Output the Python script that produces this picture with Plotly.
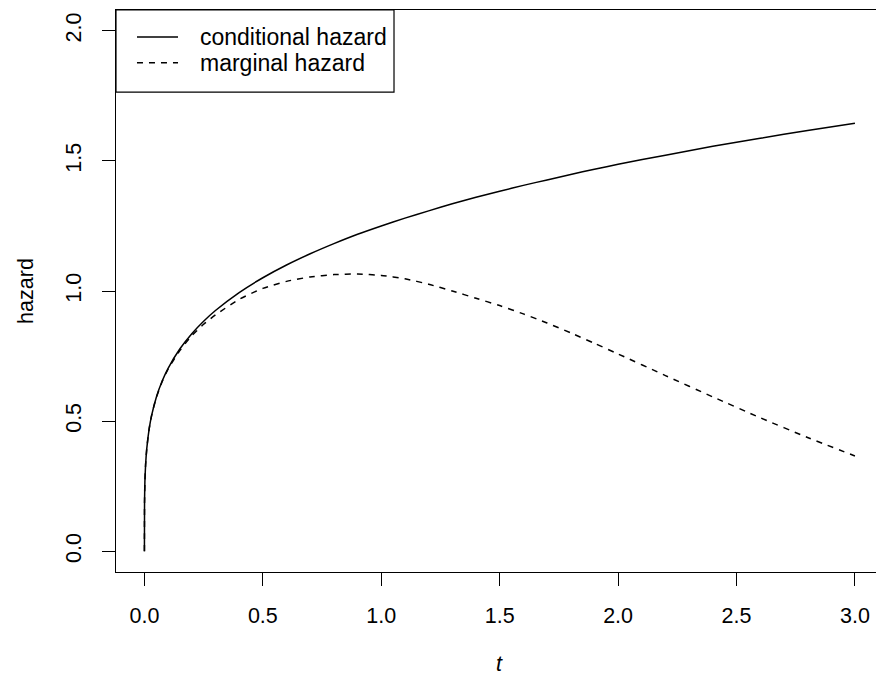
import plotly.graph_objects as go

# time points
t = [0.0, 0.0005, 0.002, 0.005, 0.01, 0.02, 0.03, 0.05, 0.075, 0.1, 0.15, 0.2,
     0.25, 0.3, 0.4, 0.5, 0.6, 0.7, 0.8, 0.9, 1.0, 1.1, 1.2, 1.3, 1.4, 1.5,
     1.6, 1.7, 1.8, 1.9, 2.0, 2.2, 2.4, 2.6, 2.8, 3.0]

conditional = [0.0, 0.188, 0.266, 0.332, 0.395, 0.470, 0.520, 0.591, 0.654, 0.703,
               0.778, 0.836, 0.884, 0.925, 0.994, 1.051, 1.100, 1.143, 1.182, 1.218,
               1.250, 1.280, 1.308, 1.335, 1.360, 1.383, 1.406, 1.427, 1.448, 1.468,
               1.487, 1.522, 1.556, 1.587, 1.617, 1.645]

marginal = [0.0, 0.188, 0.266, 0.332, 0.395, 0.470, 0.520, 0.590, 0.652, 0.700,
            0.772, 0.828, 0.872, 0.908, 0.968, 1.010, 1.037, 1.054, 1.063, 1.065,
            1.060, 1.047, 1.026, 1.000, 0.972, 0.944, 0.912, 0.877, 0.839, 0.799,
            0.758, 0.675, 0.593, 0.513, 0.437, 0.366]

legend_labels = ["conditional hazard", "marginal hazard"]
x_ticks = [0.0, 0.5, 1.0, 1.5, 2.0, 2.5, 3.0]
y_ticks = [0.0, 0.5, 1.0, 1.5, 2.0]

FONT = "Liberation Sans, Arial, Helvetica, sans-serif"
FS = 21.5
LFS = 23

fig = go.Figure()
fig.add_trace(go.Scatter(x=t, y=conditional, mode="lines",
                         line=dict(color="black", width=1.5, shape="spline", smoothing=0.6),
                         name=legend_labels[0], showlegend=False))
fig.add_trace(go.Scatter(x=t, y=marginal, mode="lines",
                         line=dict(color="black", width=1.5, dash="6px,6px", shape="spline", smoothing=0.6),
                         name=legend_labels[1], showlegend=False))

# manual legend (R style box)
fig.add_shape(type="rect", xref="paper", yref="paper", x0=0, x1=0.3658, y0=0.854, y1=1.0,
              line=dict(color="black", width=1.2), fillcolor="white", layer="above")
leg_y = [0.952, 0.906]
dashes = ["solid", "6px,6px"]
for lab, ly, d in zip(legend_labels, leg_y, dashes):
    fig.add_shape(type="line", xref="paper", yref="paper", x0=0.0276, x1=0.0816, y0=ly, y1=ly,
                  line=dict(color="black", width=1.5, dash=d), layer="above")
    fig.add_annotation(xref="paper", yref="paper", x=0.1079, y=ly, text=lab, showarrow=False,
                       xanchor="left", yanchor="middle", font=dict(family=FONT, size=LFS, color="black"))

# x axis title (italic t) centred under the full plot region
fig.add_annotation(xref="x", yref="paper", x=1.5, y=-0.163, text="<i>t</i>", showarrow=False,
                   xanchor="center", yanchor="middle", font=dict(family=FONT, size=FS, color="black"))

fig.update_layout(
    width=876, height=678,
    margin=dict(l=116, r=0, t=10, b=106),
    paper_bgcolor="white", plot_bgcolor="white",
    font=dict(family=FONT, size=FS, color="black"),
    showlegend=False,
    xaxis=dict(range=[-0.12, 3.089], tickvals=x_ticks, ticktext=[f"{v:.1f}" for v in x_ticks],
               showgrid=False, zeroline=False, showline=True, linecolor="black", linewidth=1.2,
               mirror=True, ticks="outside", ticklen=13, tickwidth=1.2, tickcolor="black",
               ticklabelstandoff=11, tickfont=dict(family=FONT, size=FS, color="black")),
    yaxis=dict(range=[-0.08, 2.08], tickvals=y_ticks, ticktext=[f"{v:.1f}" for v in y_ticks],
               showgrid=False, zeroline=False, showline=True, linecolor="black", linewidth=1.2,
               mirror=False, ticks="outside", ticklen=13, tickwidth=1.2, tickcolor="black",
               tickangle=-90, ticklabelstandoff=12,
               tickfont=dict(family=FONT, size=FS, color="black"),
               title=dict(text="hazard", font=dict(family=FONT, size=FS, color="black"), standoff=22)),
)

fig.write_html("out.html")
